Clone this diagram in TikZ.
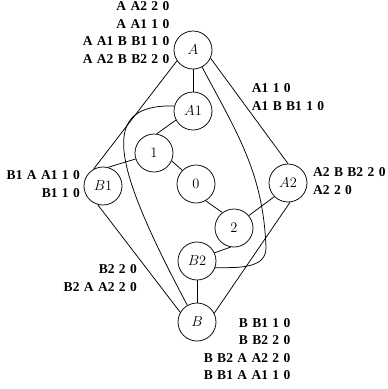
\documentclass[tikz,border=0pt]{standalone}
\usepackage[no-math]{fontspec}
\newfontfamily\lblfont[WordSpace=1.3]{Liberation Serif}
\begin{document}
\begin{tikzpicture}[x=1pt,y=-1pt,
  st/.style={circle,draw,line width=0.75pt,minimum size=38pt,inner sep=0pt,font=\fontsize{14.4}{16}\selectfont},
  lbl/.style={inner sep=0pt,font=\lblfont\bfseries\fontsize{13.5}{17.6}\selectfont},
  ed/.style={line width=0.75pt}]
\fill[white] (0,0) rectangle (388,389);
\useasboundingbox (0,0) rectangle (388,389);
% states
\node[st] (A)  at (193,50)  {$A$};
\node[st] (A1) at (193,111) {$A1$};
\node[st] (n1) at (154,153) {$1$};
\node[st] (n0) at (196,184) {$0$};
\node[st] (B1) at (103,186) {$B1$};
\node[st] (A2) at (288,183) {$A2$};
\node[st] (n2) at (234,228) {$2$};
\node[st] (B2) at (197,261) {$B2$};
\node[st] (B)  at (197,322) {$B$};
% labels
\node[lbl,anchor=east,align=right] (tA) at (169.5,32.5) {A A2 2 0\\A A1 1 0\\A A1 B B1 1 0\\A A2 B B2 2 0};
\node[lbl,anchor=west,align=left] (tA1) at (251.7,97) {A1 1 0\\A1 B B1 1 0};
\node[lbl,anchor=west,align=left] (tA2) at (313,181) {A2 B B2 2 0\\A2 2 0};
\node[lbl,anchor=east,align=right] (tB1) at (80,184) {B1 A A1 1 0\\B1 1 0};
\node[lbl,anchor=east,align=right] (tB2) at (137,278) {B2 2 0\\B2 A A2 2 0};
\node[lbl,anchor=east,align=right] (tB) at (290.5,349) {B B1 1 0\\B B2 2 0\\B B2 A A2 2 0\\B B1 A A1 1 0};
% connectors
\draw[ed] (A.south) -- (A1.north);
\draw[ed] (A.-146) -- (B1.119);
\draw[ed] (A.-25) -- (A2.90);
\draw[ed] (A1.208) -- (n1.82);
\draw[ed] (n1.198) -- (B1.75);
\draw[ed] (n1.-24) -- (n0.135);
\draw[ed] (n0.-60) -- (n2.127);
\draw[ed] (n2.40) -- (A2.-135);
\draw[ed] (n2.-100) -- (B2.25);
\draw[ed] (B2.south) -- (B.north);
\draw[ed] (A2.-84) -- (B.27);
\draw[ed] (B1.-106) -- (B.150);
\draw[ed] (A1.165) .. controls (100,104) and (110,160) .. (B.120);
\coordinate (ab2) at (266,248);
\draw[ed] (A.-62) to[out=-62,in=92] (ab2) to[out=-90,in=0] (B2.-20);
\end{tikzpicture}
\end{document}
